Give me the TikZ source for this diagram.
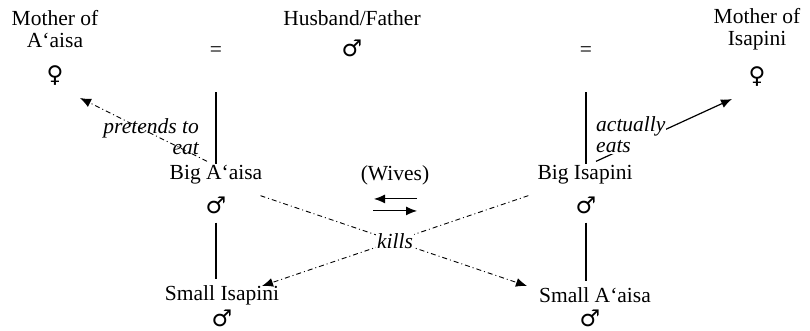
\documentclass[tikz,border=0pt]{standalone}
\usepackage{fontspec}
\setmainfont{Liberation Serif}
\newfontfamily\symfont{DejaVu Sans}
\usetikzlibrary{arrows.meta}

\tikzset{
  lbl/.style={font=\fontsize{21.5}{22}\selectfont, inner sep=1pt},
  sym/.style={font=\symfont\fontsize{23}{23}\selectfont, inner sep=0pt},
  act/.style={font=\itshape\fontsize{21.5}{21}\selectfont, inner sep=1pt},
  kin/.style={line width=1.4pt},
  tip/.style={-{Latex[length=11pt,width=9pt]}},
  dashdot/.style={dash pattern=on 5pt off 3pt on 1pt off 3pt, line width=0.9pt},
}

\begin{document}
\begin{tikzpicture}[x=1pt, y=-1pt]
\useasboundingbox (0,0) rectangle (810,331);

% top row
\node[lbl, align=center] (momA) at (55,29) {Mother of\\A‘aisa};
\node[sym] (momAsym) at (55,76) {♀};
\node[lbl] (eqL) at (216,52) {=};
\node[lbl] (hub) at (352,18) {Husband/Father};
\node[sym] (hubsym) at (352,48) {♂};
\node[lbl] (eqR) at (586,52) {=};
\node[lbl, align=center] (momI) at (757,29) {Mother of\\Isapini};
\node[sym] (momIsym) at (757,77) {♀};

% wives
\node[lbl] (bigA) at (216,175) {Big A‘aisa};
\node[sym] (bigAsym) at (216,205) {♂};
\node[lbl] (bigI) at (585,175) {Big Isapini};
\node[sym] (bigIsym) at (586,205) {♂};
\node[lbl] (wives) at (395,175) {(Wives)};

% sons
\node[lbl] (smI) at (222,295) {Small Isapini};
\node[sym] (smIsym) at (222,318) {♂};
\node[lbl] (smA) at (595,295) {Small A‘aisa};
\node[sym] (smAsym) at (590,318) {♂};

\draw [kin, shorten <=34pt] (eqL) -- (bigA.north);
\draw [kin, shorten <=34pt] (eqR) -- (eqR |- bigI.north);
\draw [kin, shorten <=9pt, shorten >=5pt] (bigAsym.south) -- (bigAsym.south |- smI.north);
\draw [kin, shorten <=9pt, shorten >=5pt] (bigIsym.south) -- (bigIsym.south |- smA.north);

\draw [tip, line width=1pt] ([xshift=22pt,yshift=-13pt]wives.south) -- ([xshift=-21pt,yshift=-13pt]wives.south);
\draw [tip, line width=1pt] ([xshift=-22pt,yshift=-25pt]wives.south) -- ([xshift=22pt,yshift=-25pt]wives.south);

% eating
\coordinate (eatA) at (80,98);
\coordinate (eatI) at (732,99);
\draw [dashdot, tip] ([xshift=-9pt,yshift=3pt]bigA.north) -- (eatA);
\node[act, align=right, anchor=east] (pret) at (200,137) {pretends to\\eat};
\draw [tip, line width=1.2pt] ([xshift=11pt,yshift=3pt]bigI.north) -- (eatI);
\node[act, align=left, anchor=west, fill=white] (act) at (595,135) {actually\\eats};

% killing
\coordinate (killA) at (527,286);
\coordinate (killI) at (262,286);
\draw [dashdot, tip] ([xshift=-3pt,yshift=-10pt]bigA.south east) -- (killA);
\draw [dashdot, tip] ([xshift=-8pt,yshift=-10pt]bigI.south west) -- (killI);
\node[act, fill=white] (kills) at (395,241) {kills};
\end{tikzpicture}
\end{document}
